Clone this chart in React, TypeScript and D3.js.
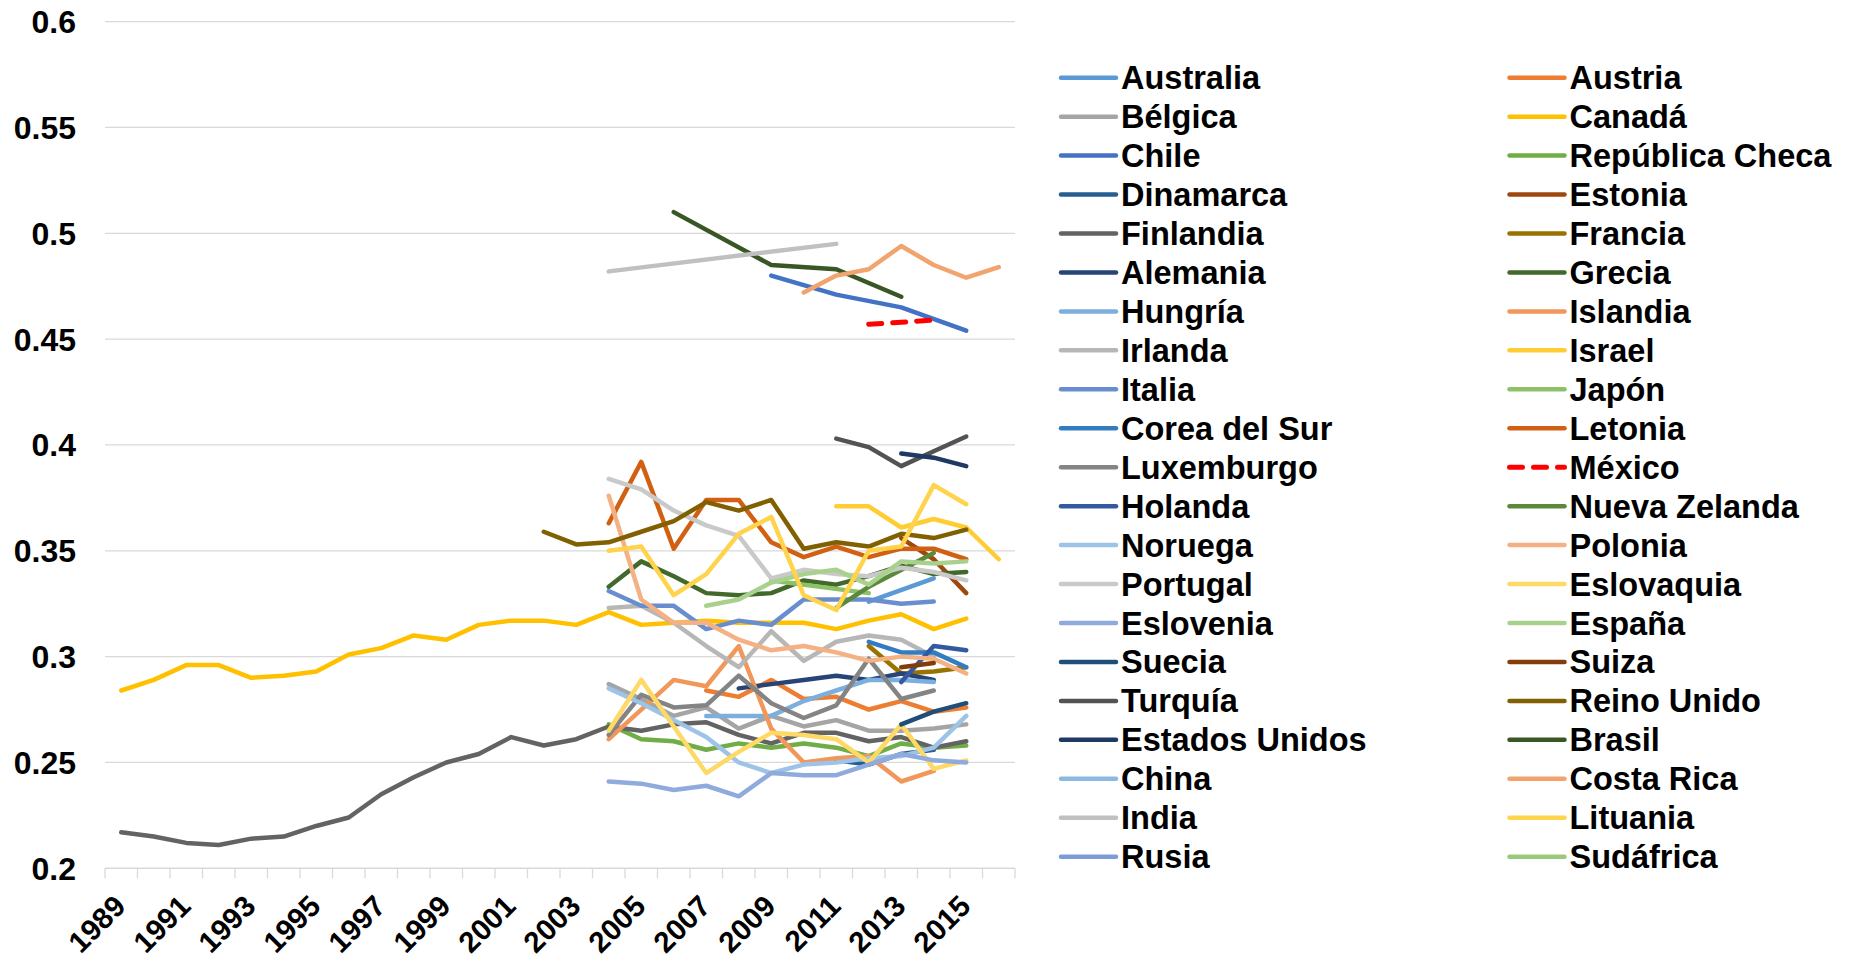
import React from 'react';
import * as d3 from 'd3';

// ---------- DATA ----------
const years = [1989, 1990, 1991, 1992, 1993, 1994, 1995, 1996, 1997, 1998, 1999, 2000, 2001, 2002, 2003, 2004, 2005, 2006, 2007, 2008, 2009, 2010, 2011, 2012, 2013, 2014, 2015, 2016];
const xTickYears = [1989, 1991, 1993, 1995, 1997, 1999, 2001, 2003, 2005, 2007, 2009, 2011, 2013, 2015];
const yTicks = [0.2, 0.25, 0.3, 0.35, 0.4, 0.45, 0.5, 0.55, 0.6];
const yTickLabels = ['0.2', '0.25', '0.3', '0.35', '0.4', '0.45', '0.5', '0.55', '0.6'];

type Pt = [number, number];

const australia: Pt[] = [[2012, 0.326], [2014, 0.337]];
const austria: Pt[] = [[2007, 0.284], [2008, 0.281], [2009, 0.289], [2010, 0.280], [2011, 0.281], [2012, 0.275], [2013, 0.279], [2014, 0.274], [2015, 0.276]];
const belgica: Pt[] = [[2004, 0.287], [2005, 0.280], [2006, 0.272], [2007, 0.276], [2008, 0.266], [2009, 0.272], [2010, 0.267], [2011, 0.270], [2012, 0.265], [2013, 0.265], [2014, 0.266], [2015, 0.268]];
const canada: Pt[] = [[1989, 0.284], [1990, 0.289], [1991, 0.296], [1992, 0.296], [1993, 0.290], [1994, 0.291], [1995, 0.293], [1996, 0.301], [1997, 0.304], [1998, 0.310], [1999, 0.308], [2000, 0.315], [2001, 0.317], [2002, 0.317], [2003, 0.315], [2004, 0.321], [2005, 0.315], [2006, 0.316], [2007, 0.317], [2008, 0.316], [2009, 0.316], [2010, 0.316], [2011, 0.313], [2012, 0.317], [2013, 0.320], [2014, 0.313], [2015, 0.318]];
const chile: Pt[] = [[2009, 0.480], [2011, 0.471], [2013, 0.465], [2015, 0.454]];
const checa: Pt[] = [[2004, 0.268], [2005, 0.261], [2006, 0.260], [2007, 0.256], [2008, 0.259], [2009, 0.257], [2010, 0.259], [2011, 0.257], [2012, 0.253], [2013, 0.259], [2014, 0.257], [2015, 0.258]];
const dinamarca: Pt[] = [[2011, 0.251], [2012, 0.249], [2013, 0.254], [2014, 0.256]];
const estonia: Pt[] = [[2013, 0.356], [2014, 0.346], [2015, 0.330]];
const finlandia: Pt[] = [[1989, 0.217], [1990, 0.215], [1991, 0.212], [1992, 0.211], [1993, 0.214], [1994, 0.215], [1995, 0.220], [1996, 0.224], [1997, 0.235], [1998, 0.243], [1999, 0.250], [2000, 0.254], [2001, 0.262], [2002, 0.258], [2003, 0.261], [2004, 0.267], [2005, 0.265], [2006, 0.268], [2007, 0.269], [2008, 0.263], [2009, 0.259], [2010, 0.264], [2011, 0.264], [2012, 0.260], [2013, 0.262], [2014, 0.257], [2015, 0.260]];
const francia: Pt[] = [[2012, 0.305], [2013, 0.292], [2014, 0.293], [2015, 0.295]];
const alemania: Pt[] = [[2008, 0.285], [2009, 0.287], [2010, 0.289], [2011, 0.291], [2012, 0.289], [2013, 0.292], [2014, 0.289]];
const grecia: Pt[] = [[2004, 0.333], [2005, 0.345], [2006, 0.338], [2007, 0.330], [2008, 0.329], [2009, 0.330], [2010, 0.336], [2011, 0.334], [2012, 0.338], [2013, 0.343], [2014, 0.339], [2015, 0.340]];
const hungria: Pt[] = [[2007, 0.272], [2008, 0.272], [2009, 0.272], [2010, 0.279], [2011, 0.284], [2012, 0.289], [2013, 0.289], [2014, 0.288]];
const islandia: Pt[] = [[2004, 0.261], [2005, 0.275], [2006, 0.289], [2007, 0.286], [2008, 0.305], [2009, 0.266], [2010, 0.250], [2011, 0.252], [2012, 0.253], [2013, 0.241], [2014, 0.246]];
const irlanda: Pt[] = [[2004, 0.323], [2005, 0.324], [2006, 0.316], [2007, 0.305], [2008, 0.295], [2009, 0.312], [2010, 0.298], [2011, 0.307], [2012, 0.310], [2013, 0.308], [2014, 0.300]];
const israel: Pt[] = [[2011, 0.371], [2012, 0.371], [2013, 0.361], [2014, 0.365], [2015, 0.361], [2016, 0.346]];
const italia: Pt[] = [[2004, 0.331], [2005, 0.324], [2006, 0.324], [2007, 0.313], [2008, 0.317], [2009, 0.315], [2010, 0.327], [2011, 0.327], [2012, 0.327], [2013, 0.325], [2014, 0.326]];
const japon: Pt[] = [[2009, 0.336], [2012, 0.330]];
const corea: Pt[] = [[2012, 0.307], [2013, 0.302], [2014, 0.302], [2015, 0.295]];
const letonia: Pt[] = [[2004, 0.363], [2005, 0.392], [2006, 0.351], [2007, 0.374], [2008, 0.374], [2009, 0.354], [2010, 0.347], [2011, 0.352], [2012, 0.347], [2013, 0.351], [2014, 0.351], [2015, 0.346]];
const luxemburgo: Pt[] = [[2004, 0.263], [2005, 0.282], [2006, 0.276], [2007, 0.277], [2008, 0.291], [2009, 0.278], [2010, 0.271], [2011, 0.277], [2012, 0.299], [2013, 0.280], [2014, 0.284]];
const mexico: Pt[] = [[2012, 0.457], [2014, 0.459]];
const holanda: Pt[] = [[2013, 0.288], [2014, 0.305], [2015, 0.303]];
const nuevaZelanda: Pt[] = [[2011, 0.323], [2012, 0.333], [2014, 0.349]];
const noruega: Pt[] = [[2004, 0.285], [2005, 0.278], [2006, 0.270], [2007, 0.262], [2008, 0.250], [2009, 0.245], [2010, 0.249], [2011, 0.250], [2012, 0.252], [2013, 0.253], [2014, 0.257], [2015, 0.272]];
const polonia: Pt[] = [[2004, 0.376], [2005, 0.327], [2006, 0.316], [2007, 0.316], [2008, 0.308], [2009, 0.303], [2010, 0.305], [2011, 0.302], [2012, 0.298], [2013, 0.300], [2014, 0.299], [2015, 0.292]];
const portugal: Pt[] = [[2004, 0.384], [2005, 0.379], [2006, 0.369], [2007, 0.362], [2008, 0.357], [2009, 0.337], [2010, 0.341], [2011, 0.339], [2012, 0.338], [2013, 0.342], [2014, 0.340], [2015, 0.336]];
const eslovaquia: Pt[] = [[2004, 0.265], [2005, 0.289], [2006, 0.267], [2007, 0.245], [2008, 0.255], [2009, 0.264], [2010, 0.263], [2011, 0.261], [2012, 0.250], [2013, 0.268], [2014, 0.247], [2015, 0.251]];
const eslovenia: Pt[] = [[2004, 0.241], [2005, 0.240], [2006, 0.237], [2007, 0.239], [2008, 0.234], [2009, 0.245], [2010, 0.244], [2011, 0.244], [2012, 0.249], [2013, 0.254], [2014, 0.251], [2015, 0.250]];
const espana: Pt[] = [[2007, 0.324], [2008, 0.327], [2009, 0.335], [2010, 0.339], [2011, 0.341], [2012, 0.334], [2013, 0.345], [2014, 0.344], [2015, 0.345]];
const suecia: Pt[] = [[2013, 0.268], [2014, 0.274], [2015, 0.278]];
const suiza: Pt[] = [[2013, 0.295], [2014, 0.297]];
const turquia: Pt[] = [[2011, 0.403], [2012, 0.399], [2013, 0.390], [2014, 0.397], [2015, 0.404]];
const reinoUnido: Pt[] = [[2002, 0.359], [2003, 0.353], [2004, 0.354], [2005, 0.359], [2006, 0.364], [2007, 0.373], [2008, 0.369], [2009, 0.374], [2010, 0.351], [2011, 0.354], [2012, 0.352], [2013, 0.358], [2014, 0.356], [2015, 0.360]];
const estadosUnidos: Pt[] = [[2013, 0.396], [2014, 0.394], [2015, 0.390]];
const brasil: Pt[] = [[2006, 0.510], [2009, 0.485], [2011, 0.483], [2013, 0.470]];
const china: Pt[] = [];
const costaRica: Pt[] = [[2010, 0.472], [2011, 0.480], [2012, 0.483], [2013, 0.494], [2014, 0.485], [2015, 0.479], [2016, 0.484]];
const india: Pt[] = [[2004, 0.482], [2011, 0.495]];
const lituania: Pt[] = [[2004, 0.350], [2005, 0.352], [2006, 0.329], [2007, 0.339], [2008, 0.358], [2009, 0.366], [2010, 0.329], [2011, 0.322], [2012, 0.350], [2013, 0.352], [2014, 0.381], [2015, 0.372]];
const rusia: Pt[] = [];
const sudafrica: Pt[] = [];

const countries = ['Australia', 'Austria', 'Bélgica', 'Canadá', 'Chile', 'República Checa', 'Dinamarca', 'Estonia', 'Finlandia', 'Francia', 'Alemania', 'Grecia', 'Hungría', 'Islandia', 'Irlanda', 'Israel', 'Italia', 'Japón', 'Corea del Sur', 'Letonia', 'Luxemburgo', 'México', 'Holanda', 'Nueva Zelanda', 'Noruega', 'Polonia', 'Portugal', 'Eslovaquia', 'Eslovenia', 'España', 'Suecia', 'Suiza', 'Turquía', 'Reino Unido', 'Estados Unidos', 'Brasil', 'China', 'Costa Rica', 'India', 'Lituania', 'Rusia', 'Sudáfrica'];
const seriesValues: Pt[][] = [australia, austria, belgica, canada, chile, checa, dinamarca, estonia, finlandia, francia, alemania, grecia, hungria, islandia, irlanda, israel, italia, japon, corea, letonia, luxemburgo, mexico, holanda, nuevaZelanda, noruega, polonia, portugal, eslovaquia, eslovenia, espana, suecia, suiza, turquia, reinoUnido, estadosUnidos, brasil, china, costaRica, india, lituania, rusia, sudafrica];

// ---------- STYLE ----------
const accents = ['#5B9BD5', '#ED7D31', '#A5A5A5', '#FFC000', '#4472C4', '#70AD47'];
const shades: [number, number][] = [[1, 0], [0.6, 0], [0.8, 0.2], [0.8, 0], [0.6, 0.4], [0.5, 0], [0.7, 0.3]];
function seriesColor(i: number): string {
  if (countries[i] === 'México') return '#FF0000';
  const c = d3.hsl(accents[i % 6]);
  const [m, o] = shades[Math.floor(i / 6)];
  c.l = c.l * m + o;
  return c.formatHex();
}
const FONT = "'Liberation Sans', Arial, Helvetica, sans-serif";
const W = 1850;
const H = 961;
const plot = { left: 105, right: 1015, top: 21.6, bottom: 868.3 };
const LW = 4.5;

export default function App() {
  const x = d3.scaleBand<number>().domain(years).range([plot.left, plot.right]).paddingInner(0).paddingOuter(0);
  const cx = (yr: number) => (x(yr) as number) + x.bandwidth() / 2;
  const y = d3.scaleLinear().domain([0.2, 0.6]).range([plot.bottom, plot.top]);
  const line = d3.line<Pt>().x(d => cx(d[0])).y(d => y(d[1]));

  const boundaries = d3.range(years.length + 1).map(k => plot.left + k * x.bandwidth());

  const rowY0 = 77.7;
  const rowStep = 38.95;
  const cols = [
    { lx1: 1061, lx2: 1116, tx: 1121 },
    { lx1: 1509.5, lx2: 1564.5, tx: 1569.5 },
  ];

  return (
    <svg width={W} height={H} style={{ position: 'absolute', left: 0, top: 0, background: '#fff' }} fontFamily={FONT}>
      <rect x={0} y={0} width={W} height={H} fill="#fff" />
      {/* gridlines */}
      {yTicks.slice(1).map(v => (
        <line key={v} x1={plot.left} x2={plot.right} y1={y(v)} y2={y(v)} stroke="#D9D9D9" strokeWidth={1.3} />
      ))}
      {/* x axis */}
      <line x1={plot.left} x2={plot.right} y1={y(0.2)} y2={y(0.2)} stroke="#D9D9D9" strokeWidth={1.5} />
      {boundaries.map((bx, k) => (
        <line key={k} x1={bx} x2={bx} y1={y(0.2)} y2={y(0.2) + 10} stroke="#D9D9D9" strokeWidth={1.3} />
      ))}
      {/* y labels */}
      {yTicks.map((v, i) => (
        <text key={v} x={76} y={y(v) + 11.5} textAnchor="end" fontSize={32} fontWeight="bold" fill="#000">{yTickLabels[i]}</text>
      ))}
      {/* x labels */}
      {xTickYears.map(yr => (
        <text key={yr} transform={`translate(${cx(yr) + 6},${908}) rotate(-45)`} textAnchor="end" fontSize={29.5} fontWeight="bold" fill="#000">{yr}</text>
      ))}
      {/* series */}
      {seriesValues.map((vals, i) => {
        if (vals.length < 2) return null;
        const isMex = countries[i] === 'México';
        return (
          <path key={countries[i]} d={line(vals) || ''} fill="none" stroke={seriesColor(i)} strokeWidth={isMex ? 5 : LW}
            strokeLinejoin="round" strokeLinecap="round" strokeDasharray={isMex ? '13 11' : undefined} />
        );
      })}
      {/* legend */}
      {countries.map((name, i) => {
        const col = cols[i % 2];
        const ry = rowY0 + Math.floor(i / 2) * rowStep;
        const isMex = name === 'México';
        return (
          <g key={name}>
            <line x1={col.lx1} x2={col.lx2} y1={ry} y2={ry} stroke={seriesColor(i)} strokeWidth={isMex ? 5 : LW}
              strokeLinecap="round" strokeDasharray={isMex ? '13 11' : undefined} />
            <text x={col.tx} y={ry + 11.5} fontSize={32.5} fontWeight="bold" fill="#000">{name}</text>
          </g>
        );
      })}
    </svg>
  );
}
